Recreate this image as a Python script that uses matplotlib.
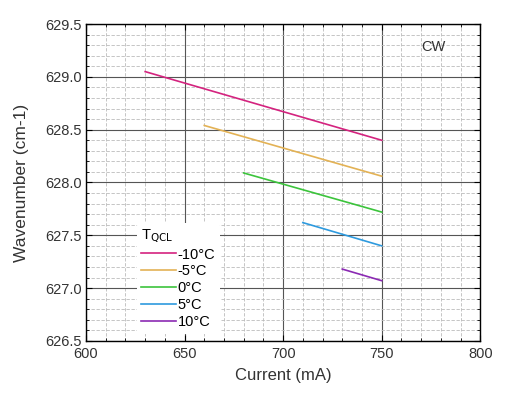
import matplotlib.pyplot as plt
from matplotlib.ticker import MultipleLocator

plt.rcParams['font.family'] = ['Liberation Sans', 'DejaVu Sans']

# temperature series: current (mA) endpoints and wavenumber (cm-1)
labels = ['-10°C', '-5°C', '0°C', '5°C', '10°C']
colors = ['#d4237f', '#e3b255', '#3cc43c', '#2e9ade', '#8b2ab3']
currents = [[630, 750], [660, 750], [680, 750], [710, 750], [730, 750]]
wavenumbers = [[629.05, 628.40], [628.54, 628.06], [628.09, 627.72],
               [627.62, 627.40], [627.18, 627.07]]

fig = plt.figure(figsize=(5.12, 3.95), dpi=100)
ax = fig.add_axes([0.168, 0.137, 0.770, 0.802])

for x, y, c, lab in zip(currents, wavenumbers, colors, labels):
    ax.plot(x, y, color=c, lw=1.2, label=lab)

ax.set_xlim(600, 800)
ax.set_ylim(626.5, 629.5)
ax.xaxis.set_major_locator(MultipleLocator(50))
ax.xaxis.set_minor_locator(MultipleLocator(10))
ax.yaxis.set_major_locator(MultipleLocator(0.5))
ax.yaxis.set_minor_locator(MultipleLocator(0.1))
ax.yaxis.set_major_formatter(plt.FormatStrFormatter('%.1f'))

ax.grid(which='major', color='#555555', lw=0.8)
ax.grid(which='minor', color='#bbbbbb', lw=0.6, ls=(0, (4, 2)))
ax.set_axisbelow(True)

ax.tick_params(which='both', direction='in', top=True, right=True,
               labelsize=10.5, labelcolor='#333333')
ax.tick_params(which='major', length=4, pad=3)
ax.tick_params(axis='x', which='major', pad=4.5)
ax.tick_params(which='minor', length=2)
for s in ax.spines.values():
    s.set_linewidth(1.0)

ax.set_xlabel('Current (mA)', fontsize=12, color='#333333', labelpad=5)
ax.set_ylabel('Wavenumber (cm-1)', fontsize=12.5, color='#333333', labelpad=12)

ax.text(0.85, 0.915, 'CW', transform=ax.transAxes, fontsize=10.5, color='#333333')

leg = ax.legend(title='T$_{\\mathrm{QCL}}$', loc='lower left',
                bbox_to_anchor=(0.11, 0.0), frameon=True, fontsize=10.5,
                title_fontsize=10.5, handlelength=2.4, handletextpad=0.1,
                labelspacing=0.2, borderpad=0.3, alignment='left')
leg.get_frame().set_edgecolor('none')
leg.get_frame().set_facecolor('white')
leg.get_frame().set_alpha(1)

fig.savefig('out.png', dpi=100)
